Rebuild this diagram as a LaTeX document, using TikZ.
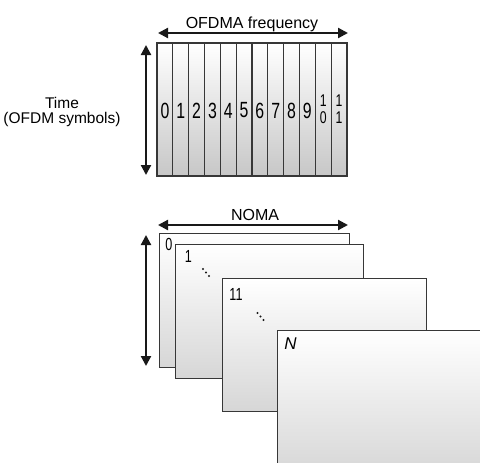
\documentclass[tikz,border=0pt]{standalone}
\usepackage{fontspec}
\setmainfont{Liberation Sans}
\newfontfamily\narrowfont[FakeStretch=0.72]{Liberation Sans}
\usetikzlibrary{arrows.meta,positioning}
\definecolor{edgegray}{RGB}{55,55,55}
\definecolor{arrowgray}{RGB}{25,25,25}

\begin{document}
\begin{tikzpicture}[
  x=1pt,y=-1pt,
  column/.style={
    draw=edgegray,
    line width=1.1pt,
    top color=white,
    bottom color=black!22,
    minimum width=15.83pt,
    minimum height=133pt,
    inner sep=0pt
  },
  layer/.style={
    draw=edgegray,
    line width=1.3pt,
    top color=white,
    bottom color=black!16,
    anchor=north west,
    inner sep=0pt
  },
  digit/.style={font=\narrowfont\fontsize{22}{22}\selectfont,inner sep=0pt},
  smalldigit/.style={font=\narrowfont\fontsize{17}{17}\selectfont,inner sep=0pt},
  layerlabel/.style={font=\narrowfont\fontsize{17.5}{17.5}\selectfont,inner sep=0pt},
  caption/.style={font=\fontsize{16}{16}\selectfont,inner sep=0pt},
  dot/.style={circle,fill=arrowgray,inner sep=0pt,minimum size=2.4pt},
  dblarrow/.style={
    {Triangle[length=10pt,width=10pt]}-{Triangle[length=10pt,width=10pt]},
    line width=2.2pt,draw=arrowgray
  }
]
\useasboundingbox (0,0) rectangle (480,463);
\clip (0,0) rectangle (480,463);

% OFDMA part
\foreach \i in {0,...,11}
  \node[column] (col\i) at ({157+15.83*(\i+0.5)},109.5) {};
\foreach \i in {0,...,9}
  \node[digit] (num\i) at ([yshift=-1pt]col\i.center) {\i};
\node[smalldigit] (num10a) at ([yshift=8.5pt]col10.center) {1};
\node[smalldigit] (num10b) at ([yshift=-8.5pt]col10.center) {0};
\node[smalldigit] (num11a) at ([yshift=8.5pt]col11.center) {1};
\node[smalldigit] (num11b) at ([yshift=-8.5pt]col11.center) {1};

\node[caption,anchor=base] (freq) at (252,28) {OFDMA frequency};
\node[caption,align=center,font=\fontsize{15.5}{14.5}\selectfont] (time) at (62,112) {Time\\(OFDM symbols)};

\coordinate (freqL) at (158,33);
\coordinate (freqR) at (348,33);
\coordinate (timeT) at (146,45);
\coordinate (timeB) at (146,175);
\draw[dblarrow] (freqL) -- (freqR);
\draw[dblarrow] (timeT) -- (timeB);

% NOMA part
\node[caption,anchor=base] (noma) at (255,220) {NOMA};
\coordinate (nomaL) at (158,225);
\coordinate (nomaR) at (348,225);
\coordinate (layerT) at (146,235);
\coordinate (layerB) at (146,366);
\draw[dblarrow] (nomaL) -- (nomaR);
\draw[dblarrow] (layerT) -- (layerB);

\node[layer,minimum width=190pt,minimum height=134pt] (layer0) at (159,233) {};
\node[layerlabel] (lab0) at (169,244) {0};
\node[layer,minimum width=188pt,minimum height=134pt] (layer1) at (175,244) {};
\node[layerlabel] (lab1) at (188.5,256.5) {1};
\foreach \k in {0,1,2}
  \node[dot] (dotsa\k) at ({203+3*\k},{269+3.5*\k}) {};
\node[layer,minimum width=204pt,minimum height=133pt] (layer11) at (222,278) {};
\node[layerlabel] (lab11) at (236,294) {11};
\foreach \k in {0,1,2}
  \node[dot] (dotsb\k) at ({257.5+3*\k},{313+3.5*\k}) {};
\node[layer,minimum width=215pt,minimum height=145pt] (layerN) at (277,330) {};
\node[layerlabel,font=\fontsize{17}{17}\selectfont\itshape] (labN) at (290.5,344) {N};
\end{tikzpicture}
\end{document}
